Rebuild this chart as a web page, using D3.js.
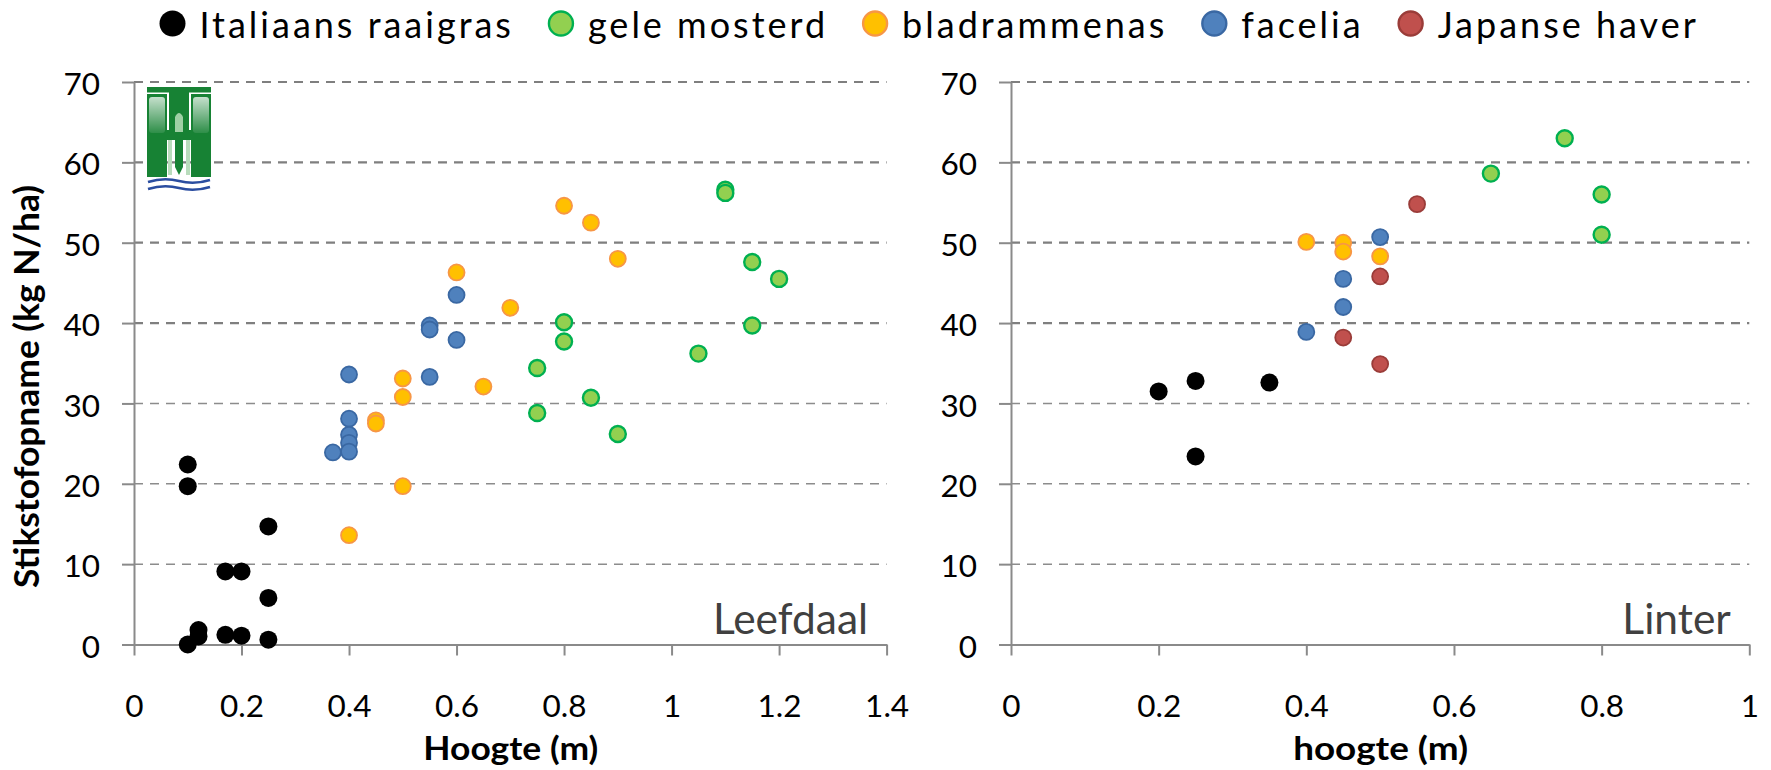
<!DOCTYPE html>
<html>
<head>
<meta charset="utf-8">
<script src="https://cdn.jsdelivr.net/npm/d3@7"></script>
<style>
body { margin: 0; background: #fff; }
text { font-family: Lato, "Noto Sans", sans-serif; }
</style>
</head>
<body>
<div id="graph"></div>
<script>
var seriesNames = ["Italiaans raaigras", "gele mosterd", "bladrammenas", "facelia", "Japanse haver"];
var fills   = ["#000000", "#92d050", "#ffc000", "#4f81bd", "#c0504d"];
var strokes = ["#000000", "#00b050", "#f79646", "#3a68a3", "#9a3c39"];

var yTicks = [0, 10, 20, 30, 40, 50, 60, 70];
var leefdaalXTicks = [0, 0.2, 0.4, 0.6, 0.8, 1, 1.2, 1.4];
var linterXTicks = [0, 0.2, 0.4, 0.6, 0.8, 1];

// Leefdaal
var leefRaaigrasX = [0.10, 0.10, 0.25, 0.17, 0.20, 0.25, 0.10, 0.12, 0.12, 0.17, 0.20, 0.25];
var leefRaaigrasY = [22.4, 19.7, 14.7, 9.1, 9.1, 5.8, 0.0, 1.8, 1.0, 1.2, 1.1, 0.6];
var leefMosterdX = [1.10, 1.10, 1.15, 1.20, 1.15, 0.80, 0.80, 0.75, 1.05, 0.85, 0.75, 0.90];
var leefMosterdY = [56.6, 56.2, 47.6, 45.5, 39.7, 40.1, 37.7, 34.4, 36.2, 30.7, 28.8, 26.2];
var leefBladX = [0.80, 0.85, 0.90, 0.60, 0.70, 0.50, 0.50, 0.65, 0.45, 0.45, 0.50, 0.40];
var leefBladY = [54.6, 52.5, 48.0, 46.3, 41.9, 33.1, 30.8, 32.1, 27.9, 27.5, 19.7, 13.6];
var leefFaceliaX = [0.60, 0.55, 0.55, 0.60, 0.40, 0.55, 0.40, 0.40, 0.40, 0.40, 0.37];
var leefFaceliaY = [43.5, 39.7, 39.2, 37.9, 33.6, 33.3, 28.1, 26.1, 25.1, 24.0, 23.9];
var leefHaverX = [];
var leefHaverY = [];

// Linter
var linRaaigrasX = [0.20, 0.25, 0.35, 0.25];
var linRaaigrasY = [31.5, 32.8, 32.6, 23.4];
var linMosterdX = [0.65, 0.75, 0.80, 0.80];
var linMosterdY = [58.6, 63.0, 56.0, 51.0];
var linBladX = [0.40, 0.45, 0.45, 0.50];
var linBladY = [50.1, 50.0, 48.9, 48.3];
var linFaceliaX = [0.40, 0.45, 0.45, 0.50];
var linFaceliaY = [38.9, 45.5, 42.0, 50.7];
var linHaverX = [0.45, 0.50, 0.50, 0.55];
var linHaverY = [38.2, 45.8, 34.9, 54.8];

var width = 1771, height = 770;

var svg = d3.select('#graph').append('svg')
    .attr('width', width)
    .attr('height', height)
    .style('background', '#ffffff');

var y = d3.scaleLinear().domain([0, 70]).range([644.5, 82]);

function panel(left, right, xTicks, xs, ys, xTitle, place, showYTitle) {
    var x = d3.scaleLinear().domain([0, d3.max(xTicks)]).range([left, right]);
    var g = svg.append('g');

    // dashed gridlines (upper ones come out a bit heavier in the original)
    g.selectAll('line.grid')
        .data(yTicks.slice(1))
        .enter()
        .append('line')
        .attr('class', 'grid')
        .attr('x1', left).attr('x2', right)
        .attr('y1', function(d) { return y(d); })
        .attr('y2', function(d) { return y(d); })
        .style('stroke', function(d) { return d >= 40 ? '#7f7f7f' : '#8c8c8c'; })
        .style('stroke-width', function(d) { return d >= 40 ? 2.2 : 1.5; })
        .style('stroke-dasharray', '9,7');

    var ya = g.append('g')
        .attr('transform', 'translate(' + left + ',0)')
        .call(d3.axisLeft(y).tickValues(yTicks).tickSize(12).tickSizeOuter(0).tickPadding(22));
    ya.selectAll('.tick text').attr('dy', '0.4em');

    var xa = g.append('g')
        .attr('transform', 'translate(0,' + y(0) + ')')
        .call(d3.axisBottom(x).tickValues(xTicks).tickSize(11).tickSizeOuter(0)
            .tickFormat(function(d) { return String(+d.toFixed(1)); }));
    xa.selectAll('.tick text').attr('y', 72.5).attr('dy', 0);

    [ya, xa].forEach(function(a) {
        a.attr('font-family', 'Lato, sans-serif').attr('font-size', 31.5);
        a.selectAll('path, line').style('stroke', '#8a8a8a').style('stroke-width', 2);
        a.selectAll('text').style('fill', '#000');
    });

    // points, series in order so later ones are on top
    for (var i = 0; i < xs.length; i++) {
        var pts = xs[i].map(function(v, j) { return [v, ys[i][j]]; });
        g.append('g').selectAll('circle')
            .data(pts)
            .enter()
            .append('circle')
            .attr('cx', function(d) { return x(d[0]); })
            .attr('cy', function(d) { return y(d[1]); })
            .attr('r', i == 0 ? 9 : 8)
            .style('fill', fills[i])
            .style('stroke', i == 0 ? 'none' : strokes[i])
            .style('stroke-width', i == 1 ? 2.4 : 1.8);
    }

    g.append('text')
        .attr('x', right - 18.5)
        .attr('y', y(0) - 11)
        .attr('text-anchor', 'end')
        .style('font-size', '42.5px')
        .style('fill', '#404040')
        .text(place);

    g.append('text')
        .attr('x', (left + right) / 2 - 87)
        .attr('y', 760)
        .attr('textLength', 175)
        .attr('lengthAdjust', 'spacingAndGlyphs')
        .style('font-size', '33px')
        .style('font-weight', 'bold')
        .text(xTitle);

    if (showYTitle) {
        g.append('text')
            .attr('transform', 'translate(39,588) rotate(-90)')
            .attr('textLength', 403)
            .attr('lengthAdjust', 'spacingAndGlyphs')
            .style('font-size', '34px')
            .style('font-weight', 'bold')
            .text('Stikstofopname (kg N/ha)');
    }
}

panel(134, 886.6, leefdaalXTicks,
    [leefRaaigrasX, leefMosterdX, leefBladX, leefFaceliaX, leefHaverX],
    [leefRaaigrasY, leefMosterdY, leefBladY, leefFaceliaY, leefHaverY],
    'Hoogte (m)', 'Leefdaal', true);

panel(1011, 1749.3, linterXTicks,
    [linRaaigrasX, linMosterdX, linBladX, linFaceliaX, linHaverX],
    [linRaaigrasY, linMosterdY, linBladY, linFaceliaY, linHaverY],
    'hoogte (m)', 'Linter', false);

// legend
var lx = 172.5;
var legend = svg.append('g');
seriesNames.forEach(function(name, i) {
    legend.append('circle')
        .attr('cx', lx).attr('cy', 23.5).attr('r', i == 0 ? 13 : 12)
        .style('fill', fills[i])
        .style('stroke', i == 0 ? 'none' : strokes[i])
        .style('stroke-width', 2.4);
    var t = legend.append('text')
        .attr('x', lx + 27).attr('y', 37.5)
        .style('font-size', '36px')
        .style('letter-spacing', '3px')
        .style('fill', '#000')
        .text(name);
    lx = lx + 27 + t.node().getComputedTextLength() + 47;
});

// logo
var logo = svg.append('g').attr('transform', 'translate(147,87)');
var defs = svg.append('defs');
var gloss = defs.append('linearGradient').attr('id', 'gloss').attr('x1', 0).attr('y1', 0).attr('x2', 0).attr('y2', 1);
gloss.append('stop').attr('offset', '0%').style('stop-color', '#fff').style('stop-opacity', 0.75);
gloss.append('stop').attr('offset', '100%').style('stop-color', '#fff').style('stop-opacity', 0.1);
var green = '#178234';
logo.append('rect').attr('x', 0).attr('y', 0).attr('width', 64).attr('height', 5.5).style('fill', green);
logo.append('rect').attr('x', 0).attr('y', 7).attr('width', 20).attr('height', 83).style('fill', green);
logo.append('rect').attr('x', 44).attr('y', 7).attr('width', 20).attr('height', 83).style('fill', green);
logo.append('rect').attr('x', 22).attr('y', 5).attr('width', 20).attr('height', 40).style('fill', green);
logo.append('rect').attr('x', 0).attr('y', 43).attr('width', 64).attr('height', 10).style('fill', green);
logo.append('rect').attr('x', 2).attr('y', 10).attr('width', 16).attr('height', 36).attr('rx', 3).style('fill', 'url(#gloss)');
logo.append('rect').attr('x', 46).attr('y', 10).attr('width', 16).attr('height', 36).attr('rx', 3).style('fill', 'url(#gloss)');
logo.append('path').attr('d', 'M28,45 L28,30 Q32,22 36,30 L36,45 Z').style('fill', '#9fd0a5');
logo.append('rect').attr('x', 21).attr('y', 53).attr('width', 4).attr('height', 35).style('fill', '#b9dcbc');
logo.append('rect').attr('x', 39).attr('y', 53).attr('width', 4).attr('height', 35).style('fill', '#b9dcbc');
logo.append('path').attr('d', 'M28,53 L36,53 L36,80 L32,88 L28,80 Z').style('fill', green);
logo.append('path').attr('d', 'M1,95 Q17,90 32,94 T63,93').style('fill', 'none').style('stroke', '#2a4da0').style('stroke-width', 2.6);
logo.append('path').attr('d', 'M1,102 Q17,97 32,101 T63,100').style('fill', 'none').style('stroke', '#2a4da0').style('stroke-width', 2.6);
</script>
</body>
</html>
